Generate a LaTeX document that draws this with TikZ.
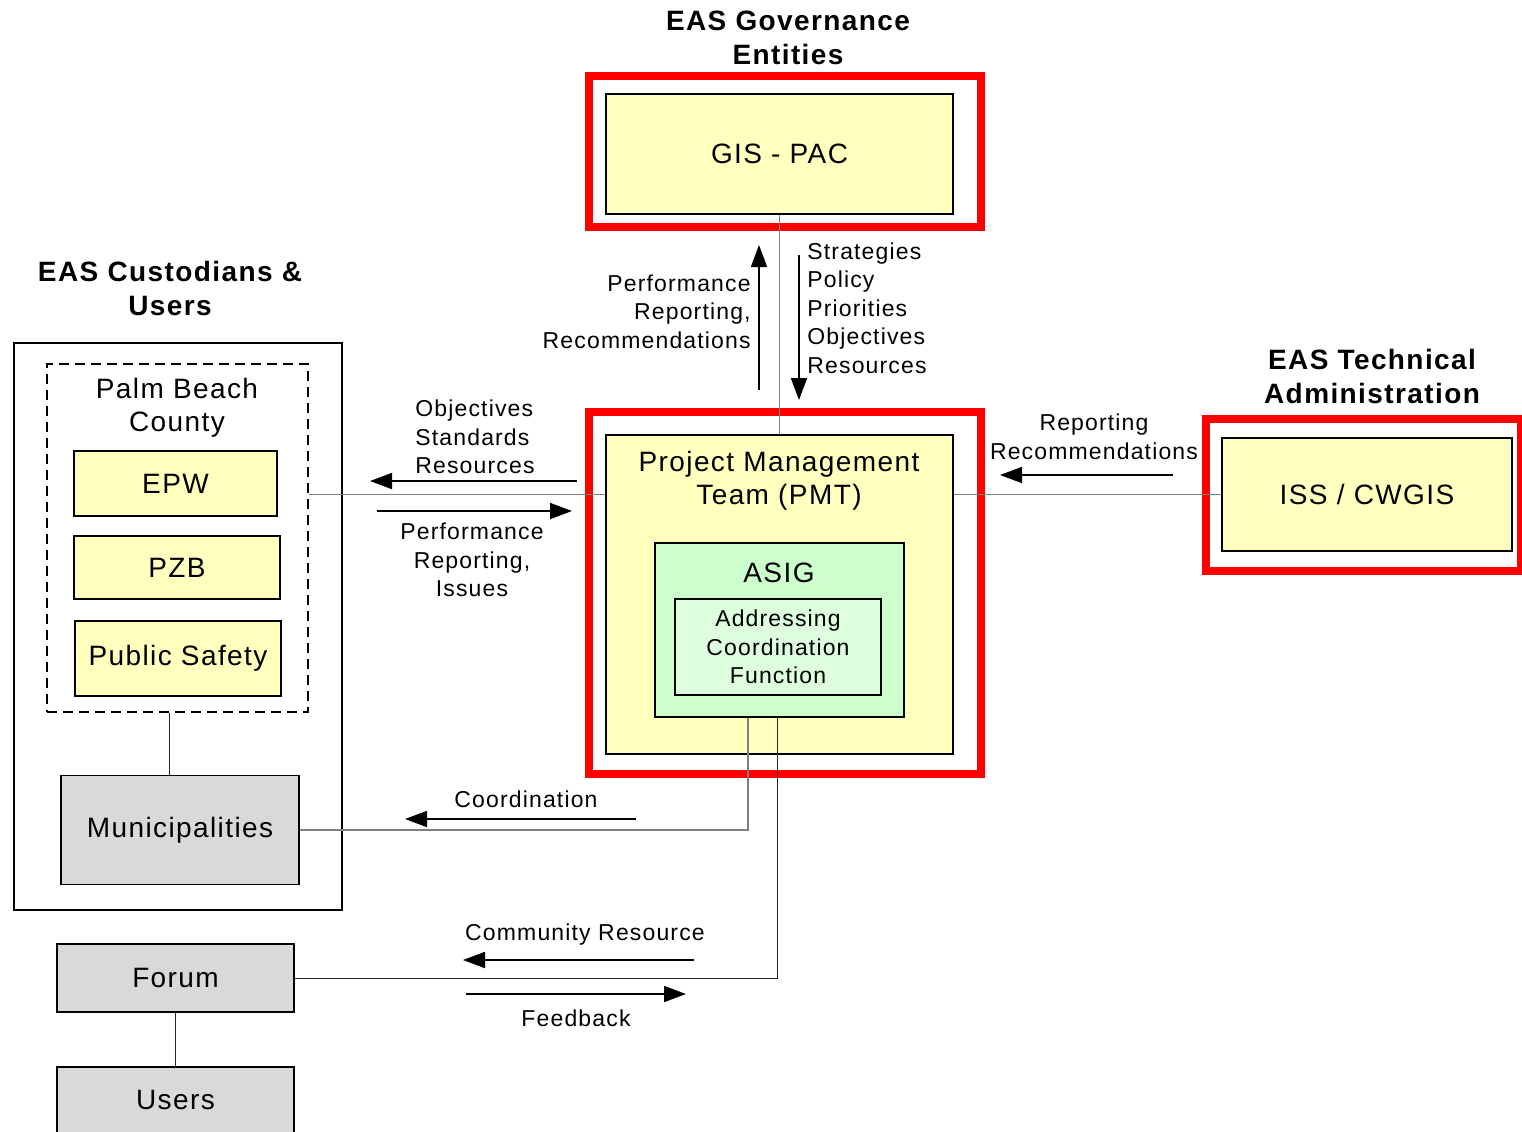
\documentclass[tikz,border=0pt]{standalone}
\usepackage{fontspec}
\setmainfont{Liberation Sans}[LetterSpace=5]
\usetikzlibrary{arrows.meta}
\definecolor{boxyellow}{HTML}{FFFFBE}
\definecolor{asiggreen}{HTML}{CCFFCC}
\definecolor{acfgreen}{HTML}{DDFFDD}
\definecolor{boxgray}{HTML}{D9D9D9}
\definecolor{linegray}{HTML}{7F7F7F}

\begin{document}
\begin{tikzpicture}[x=0.5pt,y=-0.5pt]
\tikzstyle{every node}+=[inner sep=0pt]
\tikzstyle{box}=[draw,line width=0.8pt,fill=boxyellow]
\tikzstyle{graybox}=[draw,line width=0.8pt,fill=boxgray]
\tikzstyle{redbox}=[draw=red,line width=3.6pt]
\tikzstyle{big}=[font=\fontsize{14}{16.5}\selectfont,align=center]
\tikzstyle{small}=[font=\fontsize{11.5}{14.25}\selectfont]
\tikzstyle{heading}=[font=\bfseries\fontsize{14}{17}\selectfont,align=center]
\tikzstyle{conn}=[linegray,line width=0.6pt]
\tikzstyle{darkconn}=[black!85,line width=0.5pt]
\tikzstyle{flow}=[line width=0.9pt,-{Triangle[length=11pt,width=8pt]}]

\clip (0,0) rectangle (1522,1131);

% governance
\node [heading] (govtitle) at (788,38) {EAS Governance\\Entities};
\node [redbox,minimum width=196pt,minimum height=75.5pt] (gisred) at (785,151.5) {};
\node [box,big,minimum width=173.5pt,minimum height=60pt] (gis) at (779.5,154) {GIS - PAC};

% project management team
\node [redbox,minimum width=196pt,minimum height=181pt] (pmtred) at (785,593) {};
\node [box,minimum width=173.5pt,minimum height=159.5pt] (pmt) at (779.5,594.5) {};
\node [big] (pmttext) at (779,481) {Project Management\\Team (PMT)};
\node [draw,line width=0.8pt,fill=asiggreen,minimum width=124.5pt,minimum height=87pt] (asig) at (779.5,630) {};
\node [big] (asigtext) at (779,573) {ASIG};
\node [draw,line width=0.8pt,fill=acfgreen,small,align=center,minimum width=103pt,minimum height=48pt] (acf) at (778,647) {Addressing\\Coordination\\Function};

% technical administration
\node [heading] (techtitle) at (1372,376) {EAS Technical\\Administration};
\node [redbox,minimum width=157.5pt,minimum height=76pt] (issred) at (1363.5,495) {};
\node [box,big,minimum width=145pt,minimum height=56.5pt] (iss) at (1367,494.5) {ISS / CWGIS};

% custodians and users
\node [heading] (custtitle) at (170,288) {EAS Custodians \&\\Users};
\node [draw,line width=0.8pt,minimum width=164pt,minimum height=283.5pt] (cust) at (178,626.5) {};
\node [draw,dash pattern=on 5pt off 3pt,line width=0.7pt,minimum width=130.5pt,minimum height=174pt] (pbc) at (177.5,538) {};
\node [big] (pbctext) at (177,408) {Palm Beach\\County};
\node [box,big,minimum width=101.5pt,minimum height=32.5pt] (epw) at (175.5,483.5) {EPW};
\node [box,big,minimum width=103pt,minimum height=31.5pt] (pzb) at (177,567.5) {PZB};
\node [box,big,minimum width=103pt,minimum height=37.5pt] (safety) at (178,658.5) {Public Safety};
\node [graybox,big,minimum width=119pt,minimum height=54.5pt] (muni) at (180,830) {Municipalities};
\node [graybox,big,minimum width=118.5pt,minimum height=34pt] (forum) at (175.5,978) {Forum};
\node [graybox,big,minimum width=118.5pt,minimum height=33pt] (users) at (175.5,1100) {Users};

% connectors
\draw [conn] (gis.south) -- (pmt.north);
\draw [conn] (pbc.east |- iss.west) -- (pmt.west |- iss.west);
\draw [conn] (pmt.east |- iss.west) -- (iss.west);
\draw [darkconn] ([xshift=-4pt]pbc.south) -- ([xshift=-4pt]pbc.south |- muni.north);
\draw [conn] ([xshift=-15.75pt]asig.south) |- (muni.east);
\draw [darkconn] ([xshift=-1.25pt]asig.south) |- (forum.east);
\draw [darkconn] (forum.south) -- (users.north);

% flows and labels
\draw [flow] (759,390) -- (759,245);
\draw [flow] (799,255) -- (799,400);
\node [small,align=right,anchor=east] (uplabel) at (751,311.5) {Performance\\Reporting,\\Recommendations};
\node [small,align=left,anchor=west] (downlabel) at (807,308) {Strategies\\Policy\\Priorities\\Objectives\\Resources};

\draw [flow] (577,481) -- (370,481);
\draw [flow] (377,511) -- (572,511);
\node [small,align=left,anchor=west] (objlabel) at (415,437) {Objectives\\Standards\\Resources};
\node [small,align=center] (perflabel) at (472,560) {Performance\\Reporting,\\Issues};

\draw [flow] (1173,475) -- (1000,475);
\node [small,align=center] (replabel) at (1094,437) {Reporting\\Recommendations};

\draw [flow] (636,819) -- (405,819);
\node [small] (coordlabel) at (526,799) {Coordination};
\draw [flow] (694,960) -- (463,960);
\node [small] (commlabel) at (585,935) {Community Resource};
\draw [flow] (466,994) -- (686,994);
\node [small] (feedlabel) at (576,1018) {Feedback};
\end{tikzpicture}
\end{document}
